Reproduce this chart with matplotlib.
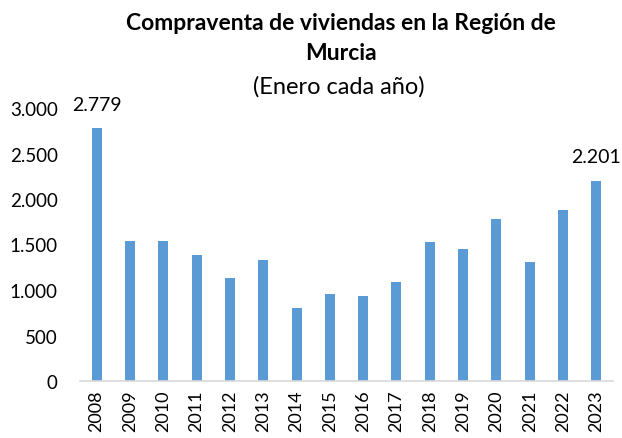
import numpy as np
import matplotlib
matplotlib.use("Agg")
from matplotlib import pyplot as plt
from matplotlib.ticker import FuncFormatter

plt.rcParams['font.family'] = ['Lato', 'DejaVu Sans']

years = ['2008', '2009', '2010', '2011', '2012', '2013', '2014', '2015',
         '2016', '2017', '2018', '2019', '2020', '2021', '2022', '2023']
ventas = [2779, 1543, 1536, 1382, 1133, 1331, 806, 953,
          935, 1085, 1532, 1455, 1778, 1312, 1884, 2201]
etiquetas = {0: '2.779', 15: '2.201'}

fig = plt.figure(figsize=(6.22, 4.39), dpi=100)
ax = fig.add_axes([80/622, 1-382/439, 533/622, 273/439])
x = np.arange(len(years))
ax.bar(x, ventas, width=0.3, color='#5b9bd5', zorder=2)
ax.set_xlim(-0.5, len(years)-0.5)
ax.set_ylim(0, 3000)
ax.set_yticks(np.arange(0, 3001, 500))
ax.yaxis.set_major_formatter(FuncFormatter(lambda v, p: f'{int(v):,}'.replace(',', '.')))
ax.set_xticks(x)
ax.set_xticklabels(years, rotation=90)
ax.tick_params(axis='y', length=0, labelsize=13.5, colors='black', pad=16)
ax.tick_params(axis='x', length=0, labelsize=13, colors='black', pad=6)
for s in ['top', 'right', 'left']:
    ax.spines[s].set_visible(False)
ax.spines['bottom'].set_color('#d9d9d9')
ax.spines['bottom'].set_linewidth(1.2)

for i, t in etiquetas.items():
    ax.annotate(t, (x[i], ventas[i]), xytext=(0, 11), textcoords='offset points',
                ha='center', va='bottom', fontsize=14)

fig.text(341/622, 1-24/439, 'Compraventa de viviendas en la Región de',
         ha='center', va='center', fontsize=16.5, fontweight='bold')
fig.text(341/622, 1-54/439, 'Murcia', ha='center', va='center',
         fontsize=16.5, fontweight='bold')
fig.text(339/622, 1-87/439, '(Enero cada año)', ha='center', va='center',
         fontsize=17)

fig.savefig('out.png', dpi=100)
